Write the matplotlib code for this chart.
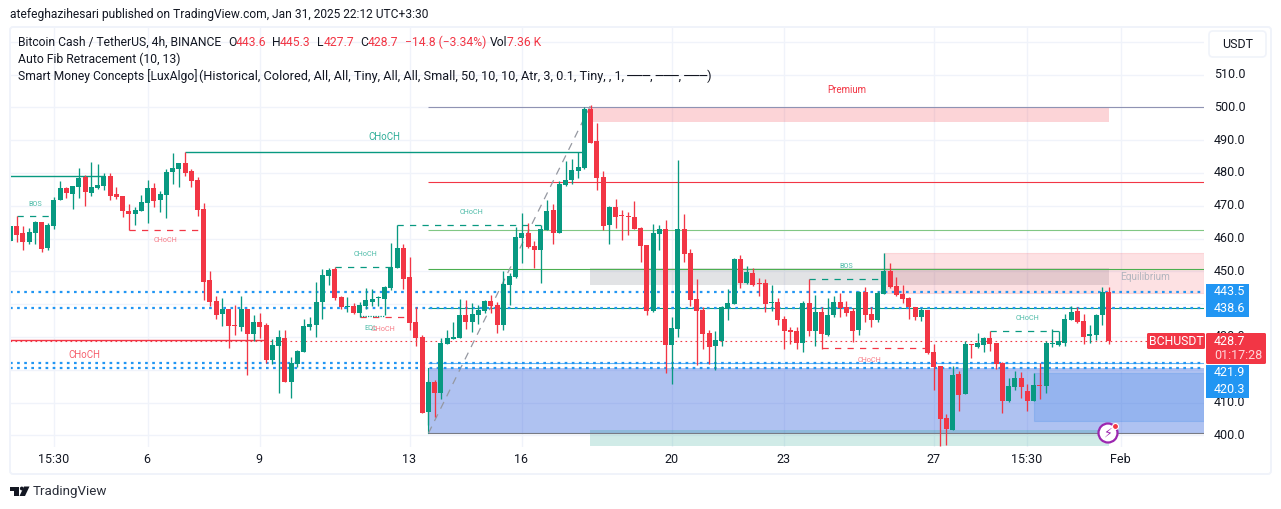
import matplotlib
matplotlib.use("Agg")
import matplotlib.pyplot as plt
from matplotlib.patches import Rectangle, FancyBboxPatch, Circle, Polygon

plt.rcParams['font.family'] = ['Roboto', 'DejaVu Sans']

# ---------- candle data (open, high, low, close) ----------
highs = [463.8,466.9,463.8,463.2,465.3,465.0,464.7,472.7,477.5,475.7,476.0,481.5,479.4,483.3,482.7,480.0,480.0,475.7,473.0,470.5,
 469.6,473.3,477.8,476.9,474.5,481.2,486.1,483.0,486.4,481.2,478.8,470.8,450.1,442.5,441.9,438.5,439.7,442.5,438.5,436.7,
 437.3,434.2,429.4,432.1,432.1,423.9,426.0,435.5,436.1,446.7,450.7,451.0,451.2,442.5,442.2,440.3,440.6,444.9,444.6,442.5,
 445.5,458.6,464.0,458.3,454.4,439.1,430.6,417.0,416.9,429.7,432.1,434.6,441.6,441.3,440.3,439.7,441.3,442.8,440.6,450.1,
 449.5,463.5,467.8,464.7,459.2,464.0,471.7,470.5,477.5,483.6,484.2,486.4,500.1,500.6,495.2,480.6,469.9,472.1,468.7,468.1,
 471.5,463.5,458.0,464.4,464.1,465.7,436.1,484.0,467.5,456.8,447.7,439.1,432.1,431.8,439.4,444.6,454.1,455.0,451.6,451.0,
 448.0,447.7,445.8,441.9,436.4,433.0,433.0,441.0,447.7,442.8,439.1,441.9,442.5,443.4,441.0,438.8,444.0,445.2,439.1,444.0,
 455.6,452.5,448.3,445.8,442.2,439.1,438.8,438.2,427.8,421.1,406.5,421.1,419.6,428.7,427.8,431.2,430.0,431.8,428.1,422.3,
 417.4,419.6,419.3,415.6,419.0,422.0,428.7,432.4,431.8,437.0,439.4,439.1,437.0,433.6,437.0,445.2,445.3]
tops = [463.8,463.8,461.7,462.0,465.0,465.0,464.1,471.7,475.4,475.4,476.0,478.5,478.8,475.7,476.3,479.1,479.1,473.6,473.0,468.4,
 468.7,471.1,475.4,475.4,473.6,480.3,481.5,483.0,483.0,480.6,477.8,469.0,447.4,441.0,438.5,438.5,433.6,438.5,438.5,434.6,
 434.6,433.6,427.5,430.0,429.7,422.0,425.7,433.3,433.9,440.6,448.9,450.4,450.7,442.2,439.4,439.4,439.7,441.3,441.6,442.2,
 445.2,451.3,457.1,457.1,448.3,434.6,430.0,416.3,416.3,428.2,429.7,430.0,436.7,436.7,437.0,438.2,441.0,441.0,439.7,446.1,
 448.6,460.5,461.7,461.7,457.7,462.9,468.4,468.7,476.6,477.8,480.9,481.8,499.5,499.5,489.7,478.8,469.6,469.6,467.1,466.9,
 466.6,463.2,458.0,461.7,462.9,462.9,432.7,462.9,462.9,455.6,441.6,438.2,431.2,429.1,439.1,440.4,453.8,453.8,449.8,449.5,
 446.5,446.5,440.7,440.7,435.5,432.1,431.8,440.4,440.4,437.6,437.6,436.7,440.7,440.7,439.1,437.9,443.7,443.7,437.0,443.4,
 450.1,450.1,445.5,443.1,441.9,439.1,438.2,438.2,425.4,421.1,405.2,418.4,418.7,427.8,427.8,428.1,429.7,429.7,428.1,422.0,
 415.0,417.4,417.4,413.5,415.3,415.3,428.1,428.1,428.7,435.4,437.6,437.9,434.8,430.9,436.7,443.7,443.6]
bottoms = [459.2,461.1,458.9,458.9,461.7,456.8,457.1,463.8,471.7,473.9,473.6,475.7,474.2,473.9,475.4,476.0,473.0,472.7,468.4,467.5,
 467.5,468.4,470.8,471.4,471.7,473.3,480.3,481.2,480.0,477.5,468.7,446.7,440.7,436.7,437.0,433.3,433.3,433.0,430.9,430.9,
 433.0,423.0,423.0,427.2,416.3,416.3,421.8,425.4,433.0,433.6,440.6,448.6,441.9,439.1,439.1,437.3,437.3,439.4,440.7,441.9,
 441.6,444.9,451.0,447.7,434.2,429.7,406.8,407.1,412.9,412.9,427.9,429.4,429.7,434.6,434.6,436.7,437.9,439.4,433.6,433.6,
 445.8,448.3,460.2,457.4,456.5,456.5,462.6,461.7,461.7,476.3,477.8,480.6,481.5,489.1,478.5,463.8,464.1,466.6,466.9,466.6,
 462.9,457.7,437.9,437.9,461.4,427.5,427.5,432.4,455.3,441.3,437.9,430.9,426.9,427.2,428.8,438.8,440.0,446.5,446.5,445.8,
 446.1,440.0,440.4,435.2,431.8,431.5,428.2,428.2,431.8,431.8,430.9,430.6,436.7,438.8,437.3,431.8,432.1,436.7,435.2,435.2,
 443.1,445.2,442.8,441.6,439.1,436.1,436.0,425.1,420.8,404.9,401.9,401.6,412.3,412.6,427.5,426.9,427.5,427.8,421.7,410.4,
 410.4,414.7,414.7,410.4,410.4,415.0,415.0,427.8,427.5,428.1,435.1,434.5,430.0,430.3,430.6,436.7,428.7]
lows = [459.2,458.9,456.5,458.3,458.3,455.9,456.5,462.9,471.7,472.4,469.0,472.4,469.9,473.0,475.1,474.8,471.7,472.1,466.6,462.6,
 464.1,468.4,464.7,469.6,468.1,466.3,476.6,475.7,479.1,475.7,466.9,441.3,439.4,435.5,433.3,426.6,430.6,431.8,418.4,428.8,
 429.7,422.0,421.8,412.9,416.3,411.4,420.8,425.4,432.1,430.0,435.5,445.8,441.3,438.5,437.6,437.0,436.1,438.5,439.4,439.4,
 436.7,444.3,451.0,444.6,432.1,427.2,406.8,403.0,405.7,411.1,427.9,429.4,429.7,432.4,431.5,433.9,437.3,437.3,431.2,432.1,
 439.7,448.0,452.5,457.1,451.0,446.4,462.6,458.3,461.7,476.0,476.6,478.5,481.2,489.1,474.8,462.6,458.3,463.2,459.6,461.1,
 462.9,452.9,436.7,437.6,456.5,419.0,415.7,430.0,452.9,439.4,421.4,426.3,421.8,419.9,427.2,435.2,440.0,444.9,446.1,445.5,
 442.5,437.6,437.9,433.6,426.3,427.9,426.3,425.4,430.3,427.2,426.4,430.3,436.1,436.1,436.4,428.5,430.6,434.6,433.0,434.6,
 443.1,444.9,442.5,440.4,435.5,435.2,434.8,424.8,413.8,396.7,397.0,401.6,407.4,412.6,423.5,426.6,425.4,425.7,420.2,406.8,
 410.1,413.8,411.4,407.4,410.4,411.0,412.9,426.9,427.2,427.2,435.1,434.2,427.8,428.1,429.0,433.6,427.7]
# True where the candle closed up
up_runs = [(0,0),(3,4),(6,8),(10,11),(13,15),(20,22),(24,27),(34,34),(37,37),(39,39),(42,43),(45,51),(54,54),(56,62),(67,67),(69,72),
 (74,76),(79,82),(85,86),(88,92),(96,96),(103,104),(106,107),(113,116),(118,118),(122,122),(127,127),(129,129),(131,132),(136,136),
 (139,140),(146,146),(151,151),(153,153),(155,156),(160,161),(164,164),(166,170),(173,175)]

# ---------- axis data ----------
price_ticks = [400, 410, 420, 430, 440, 450, 460, 470, 480, 490, 500, 510, 520]
price_labels = ['400.0', '410.0', '', '430.0', '', '450.0', '460.0', '470.0', '480.0', '490.0', '500.0', '510.0', '']
time_ticks = [7, 22, 40, 64, 82, 106, 124, 148, 163, 178]
time_labels = ['15:30', '6', '9', '13', '16', '20', '23', '27', '15:30', 'Feb']

# fib levels
fib_levels = [500.0, 477.1, 462.5, 450.6, 438.7, 422.0, 400.6]
fib_colors = ['#8f93b3', '#f23645', '#81c784', '#4caf50', '#089981', '#64b5f6', '#787b86']
dotted_levels = [443.6, 438.7, 422.0, 420.5]
last_price = 428.8
tags_blue = ['443.5', '438.6', '421.9', '420.3']

GREEN, RED, BLUE = '#089981', '#f23645', '#2196f3'
TXT = '#131722'
X0, PX = 10.3, 6.24          # pixel of candle 0, pixels per candle
P500, PY = 107.3, 3.28       # pixel of price 500, pixels per price unit

fig = plt.figure(figsize=(12.81, 5.09), dpi=100)
fig.patch.set_facecolor('white')

# pane in pixel placement: left 10, right 1204, top 27, bottom 447
ax = fig.add_axes([10/1281, 1-447/509, (1204-10)/1281, (447-27)/509])
ax.set_xlim((10-X0)/PX, (1204-X0)/PX)
ax.set_ylim(500-(447-P500)/PY, 500-(27-P500)/PY)
for s in ax.spines.values():
    s.set_visible(False)
ax.set_xticks(time_ticks)
ax.set_yticks(price_ticks)
ax.set_xticklabels([])
ax.set_yticklabels([])
ax.tick_params(length=0)
ax.grid(True, color='#f0f3fa', lw=1.0, zorder=0)
ax.set_axisbelow(True)

n = len(highs)
xs = list(range(n))
is_up = [False]*n
for a, b in up_runs:
    for k in range(a, b+1):
        is_up[k] = True
cols = [GREEN if u else RED for u in is_up]

def hl(y, a, b, c, lw=1.0, ls='-', z=2):
    ax.plot([a, b], [y, y], color=c, lw=lw, ls=ls, zorder=z, solid_capstyle='butt', dash_capstyle='butt')

def box(a, b, lo, hi, c, alpha=1.0, z=1.5, ec='none'):
    ax.add_patch(Rectangle((a, lo), b-a, hi-lo, fc=c, ec=ec, alpha=alpha, lw=0.8, zorder=z))

xr = ax.get_xlim()
END = xr[1]
FIB0 = (428.3-X0)/PX
BOX_L = 92.9
BOX_R = 176

# zones
box(FIB0, END, 400.6, 420.5, '#2f5fdc', 0.38)
box(164, END, 404.3, 418.9, '#2f7fe8', 0.20, ec='#2f7fe8')
box(BOX_L, BOX_R, 396.7, 401.6, '#089981', 0.19)
box(BOX_L, BOX_R, 495.5, 500.0, RED, 0.21)
box(BOX_L, BOX_R, 445.8, 451.0, '#787b86', 0.21)
box(140, END, 443.5, 455.6, RED, 0.15, ec='#f23645')

# fib lines and swing
for lv, c in zip(fib_levels, fib_colors):
    hl(lv, FIB0, END, c, lw=0.8)
ax.plot([67, 67], [400.6, 420.5], color=GREEN, lw=0.8, zorder=2)
ax.plot([67, 93], [400.6, 500.6], color='#9598a1', lw=0.9, ls=(0, (6, 5)), zorder=2.2)

# dotted levels
for lv in dotted_levels:
    hl(lv, xr[0], END, BLUE, lw=1.6, ls=(0, (1.2, 2.0)), z=2.4)
hl(last_price, xr[0], END, RED, lw=0.8, ls=(0, (1.5, 3.0)), z=2.4)

# structure lines
hl(479.0, xr[0], 15, GREEN, lw=1.0)
hl(486.4, 28, 92, GREEN, lw=1.0)
hl(429.1, xr[0], 41, RED, lw=1.0)
hl(466.8, 1, 7, GREEN, lw=0.9, ls=(0, (5, 5)))
hl(462.5, 19, 31, RED, lw=0.9, ls=(0, (5, 5)))
hl(451.2, 52, 61, GREEN, lw=0.9, ls=(0, (5, 5)))
hl(436.0, 56, 64, RED, lw=0.9, ls=(0, (5, 5)))
hl(436.3, 56, 60, GREEN, lw=0.9, ls=(0, (1, 1)))
hl(464.0, 62, 85, GREEN, lw=0.9, ls=(0, (5, 5)))
hl(447.6, 128, 140, GREEN, lw=0.9, ls=(0, (5, 5)))
hl(426.5, 130, 147, RED, lw=0.9, ls=(0, (5, 5)))
hl(431.7, 157, 168, GREEN, lw=0.9, ls=(0, (5, 5)))

# candles
ax.vlines(xs, lows, highs, colors=cols, lw=0.95, zorder=3)
ax.bar(xs, [t-b if t-b > 0.25 else 0.25 for t, b in zip(tops, bottoms)], bottom=bottoms,
       width=0.8, color=cols, lw=0, zorder=3.2)

# ---------- overlay in pixel coordinates ----------
ov = fig.add_axes([0, 0, 1, 1], facecolor='none')
ov.set_xlim(0, 1281)
ov.set_ylim(509, 0)
ov.axis('off')

# frame
ov.add_patch(FancyBboxPatch((10, 27), 1261, 447, boxstyle='round,pad=0,rounding_size=3', fc='none', ec='#f0f3fa', lw=1.4, zorder=1))

def t(x, y, s, c=TXT, size=9.0, ha='left', weight='normal', alpha=1, z=5, fam=None):
    kw = {'family': fam} if fam else {}
    return ov.text(x, y, s, color=c, fontsize=size, ha=ha, va='center', fontweight=weight, alpha=alpha, zorder=z, **kw)

# header
t(10, 14.5, 'atefeghazihesari published on TradingView.com, Jan 31, 2025 22:12 UTC+3:30', size=8.68)
t(18, 42, 'Bitcoin Cash / TetherUS, 4h, BINANCE', size=8.75)
for x, s, c in [(228, 'O', TXT), (236, '443.6', RED), (272, 'H', TXT), (280, '445.3', RED), (317, 'L', TXT), (324, '427.7', RED),
                (360, 'C', TXT), (368, '428.7', RED), (405, '−14.8 (−3.34%)', RED), (490, 'Vol', TXT), (507, '7.36 K', RED)]:
    t(x, 42, s, c=c, size=8.75)
t(18, 59, 'Auto Fib Retracement (10, 13)', size=8.85)
t(18, 76, 'Smart Money Concepts [LuxAlgo]', size=8.7)
t(199, 76, '(Historical, Colored, All, All, Tiny, All, All, Small, 50, 10, 10, Atr, 3, 0.1, Tiny, , 1, ───, ───, ───)', size=9.22)

# price labels
for p, s in zip(price_ticks, price_labels):
    if s:
        t(1214, P500 + (500-p)*PY, s, size=9.0, z=2)

# time labels
for i, s in zip(time_ticks, time_labels):
    t(X0 + i*PX - 0.7, 459.5, s, size=9.0, ha='center')

# USDT button
ov.add_patch(FancyBboxPatch((1209, 31), 57, 26, boxstyle='round,pad=0,rounding_size=4', fc='white', ec='#f0f3fa', lw=1.2, zorder=2))
t(1237.5, 44.5, 'USDT', size=9.0, ha='center')

# price tags
for (y0, y1), s in zip([(283.5, 300), (300, 317), (364.5, 381.5), (381.5, 398)], tags_blue):
    ov.add_patch(Rectangle((1206, y0), 43, y1-y0, fc=BLUE, ec='none', zorder=4))
    t(1214, (y0+y1)/2, s, c='white', size=9.0)
ov.add_patch(FancyBboxPatch((1206, 333), 60, 31, boxstyle='round,pad=0,rounding_size=1.5', fc=RED, ec='none', zorder=4))
ov.add_patch(FancyBboxPatch((1147, 333), 58, 16, boxstyle='round,pad=0,rounding_size=1.5', fc=RED, ec='none', zorder=4))
t(1176, 341.5, 'BCHUSDT', c='white', size=8.8, ha='center')
t(1214, 341.5, '428.7', c='white', size=9.0)
t(1214, 355.5, '01:17:28', c='#ffd5d8', size=9.0)

# chart annotations
TG, TR = '#4dbba8', '#f77c87'
t(384, 136.5, 'CHoCH', c='#2fae98', size=7.0, ha='center')
t(84, 355.5, 'CHoCH', c='#f6606d', size=7.0, ha='center')
t(35, 204.5, 'BOS', c=TG, size=5.2, ha='center')
t(165, 241, 'CHoCH', c=TR, size=5.2, ha='center')
t(365, 254.5, 'CHoCH', c=TG, size=5.2, ha='center')
t(471, 212.5, 'CHoCH', c=TG, size=5.2, ha='center')
t(370.5, 327.5, 'EQL', c=TG, size=5.2, ha='center')
t(384, 329.5, 'CHoCH', c=TR, size=5.2, ha='center')
t(846, 266.5, 'BOS', c=TG, size=5.2, ha='center')
t(870, 360.5, 'CHoCH', c=TR, size=5.2, ha='center')
t(1027, 318.5, 'CHoCH', c=TG, size=5.2, ha='center')
t(847, 89.5, 'Premium', c=RED, size=7.0, ha='center')
t(1145, 276.5, 'Equilibrium', c='#b2b5be', size=7.2, ha='center')

# lightning badge
ov.add_patch(Circle((1108, 433), 9.5, fc='white', ec='#9c27b0', lw=1.6, zorder=6))
t(1108, 433.5, '\u26a1', c='#9c27b0', size=9, ha='center', z=7, fam='DejaVu Sans')
ov.add_patch(Circle((1115.5, 426.5), 3, fc='#f23645', ec='white', lw=0.8, zorder=8))

# footer logo
ov.add_patch(Rectangle((10, 486.5), 9, 4, fc='#131722', ec='none'))
ov.add_patch(Rectangle((14, 486.5), 5, 9.5, fc='#131722', ec='none'))
ov.add_patch(Circle((21.8, 488.5), 1.9, fc='#131722', ec='none'))
ov.add_patch(Polygon([[24, 486.5], [29.5, 486.5], [25, 496], [19.5, 496]], closed=True, fc='#131722', ec='none'))
t(33, 491.5, 'TradingView', size=9.6, c='#2a2e39')

fig.savefig('out.png', dpi=100)
